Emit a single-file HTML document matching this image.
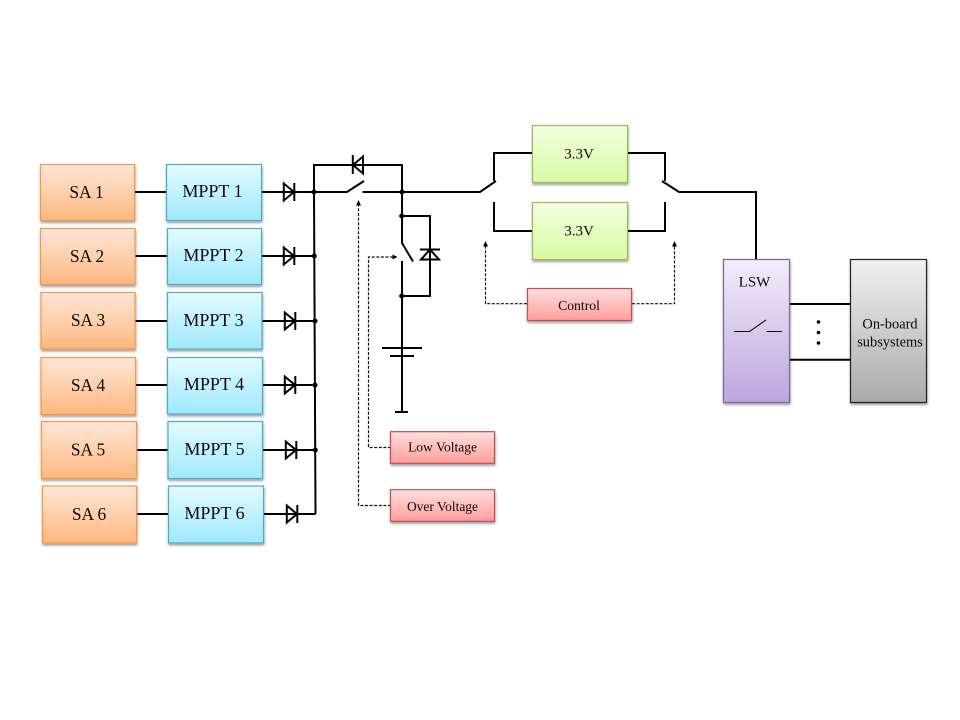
<!DOCTYPE html>
<html>
<head>
<meta charset="utf-8">
<style>
html,body{margin:0;padding:0;background:#fff;width:960px;height:720px;overflow:hidden}
svg{display:block}
text{font-family:"Liberation Serif",serif;fill:#0a0a0a;text-anchor:middle}
.w{fill:none;stroke:#000;stroke-width:2}
.t{fill:none;stroke:#111;stroke-width:1.1}
.d{fill:none;stroke:#111;stroke-width:1.2;stroke-dasharray:3 1.6}
.sa{fill:url(#go);stroke:#f79646;stroke-width:1.2;filter:url(#sh)}
.mp{fill:url(#gb);stroke:#4bacc6;stroke-width:1.2;filter:url(#sh)}
.gr{fill:url(#gg);stroke:#9bbb59;stroke-width:1.2;filter:url(#sh)}
.re{fill:url(#gr);stroke:#c0504d;stroke-width:1.2;filter:url(#sh)}
.a{font-size:17.4px}
.m{font-size:18px}
</style>
</head>
<body>
<svg width="960" height="720" viewBox="0 0 960 720" xmlns="http://www.w3.org/2000/svg">
<defs>
<linearGradient id="go" x1="0" y1="0" x2="0" y2="1"><stop offset="0" stop-color="#ffe6d8"/><stop offset="1" stop-color="#ffb87e"/></linearGradient>
<linearGradient id="gb" x1="0" y1="0" x2="0" y2="1"><stop offset="0" stop-color="#e3fbff"/><stop offset="1" stop-color="#a0e8fd"/></linearGradient>
<linearGradient id="gg" x1="0" y1="0" x2="0" y2="1"><stop offset="0" stop-color="#f3fee2"/><stop offset="1" stop-color="#d8fba2"/></linearGradient>
<linearGradient id="gr" x1="0" y1="0" x2="0" y2="1"><stop offset="0" stop-color="#ffdfdf"/><stop offset="1" stop-color="#ff9d9d"/></linearGradient>
<linearGradient id="gp" x1="0" y1="0" x2="0" y2="1"><stop offset="0" stop-color="#f2edf9"/><stop offset="1" stop-color="#bda6dd"/></linearGradient>
<linearGradient id="gy" x1="0" y1="0" x2="0" y2="1"><stop offset="0" stop-color="#f0f0f0"/><stop offset="1" stop-color="#aaaaaa"/></linearGradient>
<filter id="sh" x="-10%" y="-10%" width="125%" height="125%"><feDropShadow dx="0.5" dy="1.8" stdDeviation="1.2" flood-color="#000" flood-opacity="0.4"/></filter>
</defs>

<!-- SA to MPPT and MPPT to bus wires -->
<g class="w">
<path d="M135 192H166M262 192H347L364 181"/>
<path d="M135 256H167M262 256H314"/>
<path d="M135 321H167M262 321H315"/>
<path d="M135 385H167M262 385H315"/>
<path d="M136 450H168M262 450H315"/>
<path d="M137 514H168M263 514H315.5"/>
<path d="M314 192V165H402V243L413 261.5"/>
<path d="M314 192L315.5 514"/>
<path d="M362.5 192H480L496 181"/>
<path d="M402 192V216H430V296H402"/>
<path d="M402 261V411"/>
<path d="M395 412H408"/>
<path d="M382 348H422M390 356H414"/>
<path d="M494 181V153H532M494 202V231H532"/>
<path d="M627 153H665V181M627 231H665V202"/>
<path d="M662 181L679 192H756V259"/>
<path d="M789 304H850M789 359.7H850"/>
</g>

<!-- Diodes -->
<g class="w">
<path d="M283.8 183.5V200.5L294 192ZM294.3 183V201"/>
<path d="M283.8 247.5V264.5L294 256ZM294.3 247V265"/>
<path d="M284.8 312.5V329.5L295 321ZM295.3 312V330"/>
<path d="M284.8 376.5V393.5L295 385ZM295.3 376V394"/>
<path d="M285.8 441.5V458.5L296 450ZM296.3 441V459"/>
<path d="M286.8 505.5V522.5L297 514ZM297.3 505V523"/>
<path d="M363 156.5V173.5L353 165ZM352.8 155V174"/>
<path d="M421 259.5H439L430 249.5ZM420 249.5H440"/>
</g>

<!-- Junction dots -->
<g fill="#000">
<circle cx="314" cy="192" r="2.5"/>
<circle cx="314.3" cy="256" r="2.5"/>
<circle cx="315" cy="321" r="2.5"/>
<circle cx="315" cy="385" r="2.5"/>
<circle cx="315.3" cy="450" r="2.5"/>
<circle cx="402" cy="192" r="2.5"/>
<circle cx="401.7" cy="216" r="2.5"/>
<circle cx="401.7" cy="296" r="2.5"/>
<circle cx="818.5" cy="322" r="1.8"/>
<circle cx="818.5" cy="332.5" r="1.8"/>
<circle cx="818.5" cy="343" r="1.8"/>
</g>

<!-- Dashed control lines -->
<g class="d">
<path d="M391 447.5H368.5V257H393"/>
<path d="M391 505.5H358.5V205"/>
<path d="M527 303.7H485.5V246"/>
<path d="M632 303.7H674.5V246"/>
</g>
<g fill="#000">
<path d="M397.5 257L392.5 254.5V259.5Z"/>
<path d="M358.5 200L356 205.5H361Z"/>
<path d="M485.5 241L483 246.5H488Z"/>
<path d="M674.5 241L672 246.5H677Z"/>
</g>

<!-- Solar arrays -->
<rect class="sa" x="40.5" y="164.5" width="94" height="56"/>
<rect class="sa" x="40.5" y="228.5" width="94.5" height="56"/>
<rect class="sa" x="41" y="292.5" width="94" height="56.5"/>
<rect class="sa" x="41" y="357.5" width="94.5" height="57"/>
<rect class="sa" x="41.5" y="421.5" width="95" height="57"/>
<rect class="sa" x="42.5" y="486" width="94" height="57"/>
<text class="a" x="86.5" y="198">SA 1</text>
<text class="a" x="87" y="262">SA 2</text>
<text class="a" x="88" y="326">SA 3</text>
<text class="a" x="88" y="391">SA 4</text>
<text class="a" x="88" y="455.5">SA 5</text>
<text class="a" x="89" y="520">SA 6</text>

<!-- MPPT -->
<rect class="mp" x="166.5" y="164.5" width="95" height="56"/>
<rect class="mp" x="167.5" y="228.5" width="94" height="56"/>
<rect class="mp" x="167.5" y="292.5" width="94.5" height="56.5"/>
<rect class="mp" x="167.5" y="357.5" width="95" height="56.5"/>
<rect class="mp" x="168" y="421.5" width="94.5" height="57"/>
<rect class="mp" x="168.5" y="486" width="95" height="57"/>
<text class="m" x="212.5" y="197">MPPT 1</text>
<text class="m" x="213.5" y="261">MPPT 2</text>
<text class="m" x="213.5" y="326">MPPT 3</text>
<text class="m" x="214" y="390">MPPT 4</text>
<text class="m" x="214.5" y="455">MPPT 5</text>
<text class="m" x="214.5" y="519">MPPT 6</text>

<!-- 3.3V converters -->
<rect class="gr" x="532.5" y="125.5" width="95" height="57"/>
<rect class="gr" x="532.5" y="202.5" width="95" height="57"/>
<text x="579" y="158.5" font-size="15">3.3V</text>
<text x="579" y="235.5" font-size="15">3.3V</text>

<!-- Control blocks -->
<rect class="re" x="527.5" y="288.5" width="104" height="32"/>
<rect class="re" x="390.5" y="431.7" width="104" height="31.6"/>
<rect class="re" x="390.5" y="489.7" width="104" height="31.6"/>
<text x="579" y="310" font-size="13.7">Control</text>
<text x="442.5" y="451.7" font-size="13.5">Low Voltage</text>
<text x="442.5" y="511" font-size="13.5">Over Voltage</text>

<!-- LSW -->
<rect x="723.5" y="259.5" width="66" height="143" fill="url(#gp)" stroke="#8064a2" stroke-width="1.2" filter="url(#sh)"/>
<text x="754.5" y="286.7" font-size="15">LSW</text>
<path class="t" d="M734 331.5H749.5L766 320M766.5 331.5H782"/>

<!-- On-board subsystems -->
<rect x="850.5" y="259.5" width="76" height="143" fill="url(#gy)" stroke="#222" stroke-width="1.2" filter="url(#sh)"/>
<text x="890" y="328.7" font-size="14.4">On-board</text>
<text x="890" y="346.7" font-size="14.4">subsystems</text>
</svg>
</body>
</html>
